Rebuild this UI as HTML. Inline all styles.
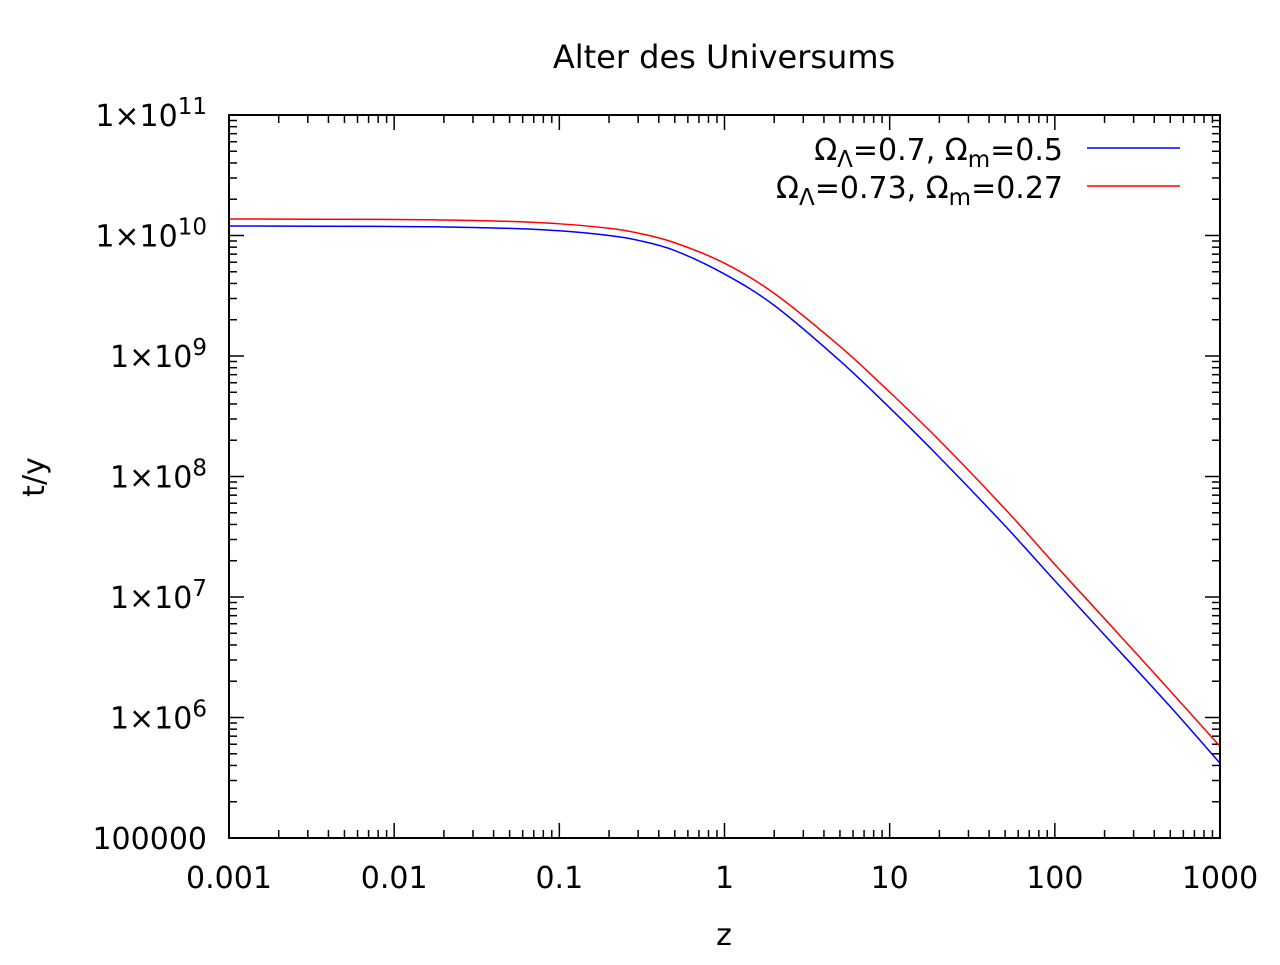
<!DOCTYPE html>
<html><head><meta charset="utf-8"><style>
body{margin:0;background:#fff}
svg text{font-family:"DejaVu Sans","Liberation Sans",sans-serif;fill:#000}
</style></head><body>
<svg id="c" width="1280" height="960" xmlns="http://www.w3.org/2000/svg">
<rect width="1280" height="960" fill="#fff"/>
<text x="724" y="68" font-size="32" text-anchor="middle">Alter des Universums</text>
<text x="44" y="477" font-size="30" text-anchor="middle" transform="rotate(-90 44 477)">t/y</text>
<text x="724" y="945" font-size="30" text-anchor="middle">z</text>
<g id="ticks"></g>
<g id="series"></g>
<rect x="229" y="115" width="991" height="723" fill="none" stroke="#000" stroke-width="2"/>
<g>
<text x="1063" y="160" font-size="30" text-anchor="end">Ω<tspan font-size="23" dy="7">Λ</tspan><tspan dy="-7">=0.7, Ω</tspan><tspan font-size="23" dy="7">m</tspan><tspan dy="-7">=0.5</tspan></text>
<line x1="1087" y1="148" x2="1180" y2="148" stroke="#0000ff" stroke-width="1.5"/>
<text x="1063" y="198" font-size="30" text-anchor="end">Ω<tspan font-size="23" dy="7">Λ</tspan><tspan dy="-7">=0.73, Ω</tspan><tspan font-size="23" dy="7">m</tspan><tspan dy="-7">=0.27</tspan></text>
<line x1="1087" y1="186" x2="1180" y2="186" stroke="#ff0000" stroke-width="1.5"/>
</g>
</svg>
<script>
const zValues=[0.001,0.01,0.02,0.05,0.1,0.2,0.3,0.5,1,2,5,10,20,50,100,200,500,1000];
const blueLogT=[10.079,10.075,10.071,10.059,10.039,10.0,9.96,9.875,9.68,9.42,8.96,8.57,8.16,7.59,7.135,6.685,6.09,5.62];
const redLogT=[10.137,10.133,10.129,10.117,10.097,10.06,10.02,9.94,9.77,9.52,9.08,8.70,8.30,7.73,7.27,6.82,6.22,5.76];
const xTickLabels=["0.001","0.01","0.1","1","10","100","1000"];
const yTickExps=[5,6,7,8,9,10,11];
const NS="http://www.w3.org/2000/svg";
const X0=229,X1=1220,Y0=838,Y1=115;
function sx(z){return X0+(Math.log10(z)+3)/6*(X1-X0);}
function sy(lt){return Y0-(lt-5)/6*(Y0-Y1);}
const tg=document.getElementById('ticks');
function mk(tag,attrs,parent){const e=document.createElementNS(NS,tag);for(const k in attrs)e.setAttribute(k,attrs[k]);parent.appendChild(e);return e;}
for(let d=-3;d<=3;d++){
  const x=sx(Math.pow(10,d));
  const t=mk('line',{x1:x,x2:x,y1:Y0,y2:Y0-15,stroke:'#000','stroke-width':1.5},tg);
  
  
  mk('line',{x1:x,x2:x,y1:Y1,y2:Y1+15,stroke:'#000','stroke-width':1.5},tg);
  const lb=mk('text',{x:x,y:888,'font-size':30,'text-anchor':'middle'},tg);
  lb.textContent=xTickLabels[d+3];
  
  
  if(d<3)for(let m=2;m<=9;m++){const xm=sx(m*Math.pow(10,d));
    mk('line',{x1:xm,x2:xm,y1:Y0,y2:Y0-8,stroke:'#000','stroke-width':1.5},tg);
    mk('line',{x1:xm,x2:xm,y1:Y1,y2:Y1+8,stroke:'#000','stroke-width':1.5},tg);}
}
yTickExps.forEach((e,i)=>{
  const y=sy(e);
  mk('line',{x1:X0,x2:X0+15,y1:y,y2:y,stroke:'#000','stroke-width':1.5},tg);
  mk('line',{x1:X1,x2:X1-15,y1:y,y2:y,stroke:'#000','stroke-width':1.5},tg);
  const lb=mk('text',{x:207,y:y+11,'font-size':30,'text-anchor':'end'},tg);
  if(e===5){lb.textContent='100000';}
  else{lb.innerHTML='1×10<tspan font-size="23" dy="-12">'+e+'</tspan>';}
  
  
  if(e<11)for(let m=2;m<=9;m++){const ym=sy(e+Math.log10(m));
    mk('line',{x1:X0,x2:X0+8,y1:ym,y2:ym,stroke:'#000','stroke-width':1.5},tg);
    mk('line',{x1:X1,x2:X1-8,y1:ym,y2:ym,stroke:'#000','stroke-width':1.5},tg);}
});
function path(vals){
  const pts=zValues.map((z,i)=>[sx(z),sy(vals[i])]);
  let d='M'+pts[0][0]+','+pts[0][1];
  for(let i=0;i<pts.length-1;i++){
    const p0=pts[Math.max(0,i-1)],p1=pts[i],p2=pts[i+1],p3=pts[Math.min(pts.length-1,i+2)];
    const c1=[p1[0]+(p2[0]-p0[0])/6,p1[1]+(p2[1]-p0[1])/6];
    const c2=[p2[0]-(p3[0]-p1[0])/6,p2[1]-(p3[1]-p1[1])/6];
    d+=' C'+c1+' '+c2+' '+p2;
  }
  return d;
}
const sg=document.getElementById('series');
const pb=mk('path',{d:path(blueLogT),fill:'none',stroke:'#0000ff','stroke-width':1.5},sg);


const pr=mk('path',{d:path(redLogT),fill:'none',stroke:'#ff0000','stroke-width':1.5},sg);


</script>
</body></html>
